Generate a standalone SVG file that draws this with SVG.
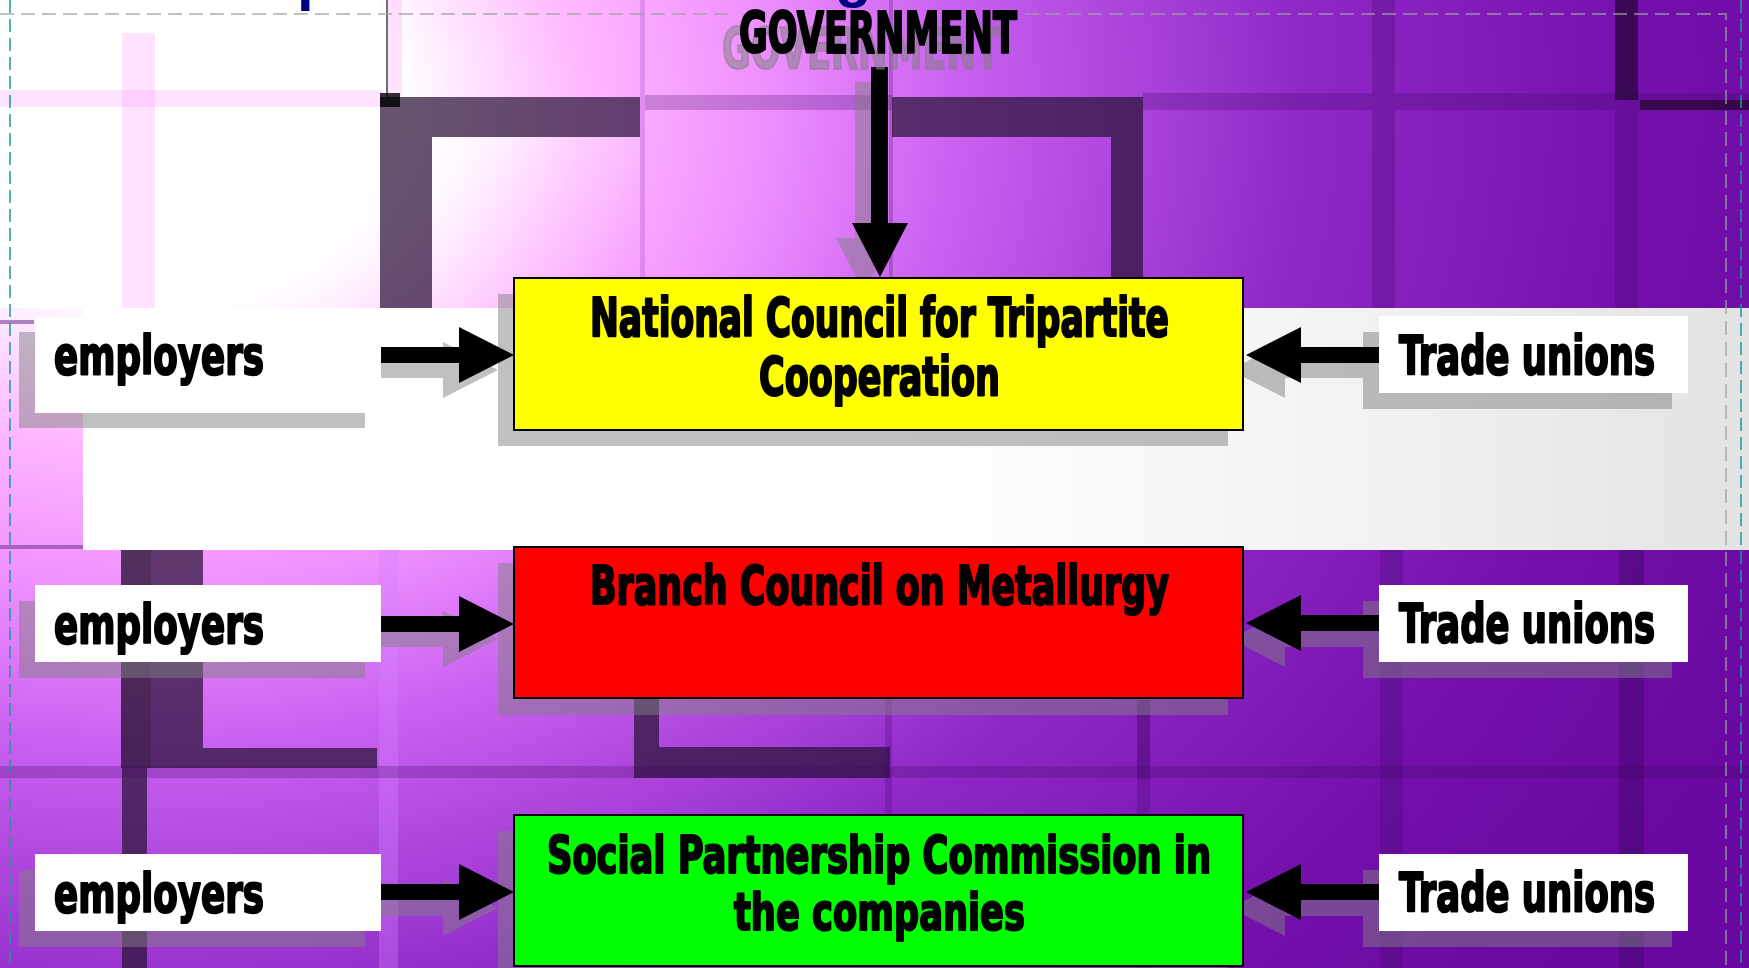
<svg xmlns="http://www.w3.org/2000/svg" width="1749" height="968" viewBox="0 0 1749 968">
  <defs>
    <radialGradient id="bgGrad" gradientUnits="userSpaceOnUse" cx="150" cy="100" r="1800" gradientTransform="translate(150 100) scale(1 0.8) translate(-150 -100)">
      <stop offset="0" stop-color="#ffffff"/>
      <stop offset="0.14" stop-color="#ffffff"/>
      <stop offset="0.24" stop-color="#ffb8ff"/>
      <stop offset="0.34" stop-color="#f090ff"/>
      <stop offset="0.45" stop-color="#c860f0"/>
      <stop offset="0.64" stop-color="#9028c8"/>
      <stop offset="0.83" stop-color="#7410ac"/>
      <stop offset="1" stop-color="#6808a0"/>
    </radialGradient>
    <linearGradient id="tileFade" x1="0" y1="0" x2="1" y2="1">
      <stop offset="0" stop-color="#ffffff" stop-opacity="1"/>
      <stop offset="0.6" stop-color="#ffffff" stop-opacity="1"/>
      <stop offset="1" stop-color="#ffffff" stop-opacity="0.25"/>
    </linearGradient>
    <linearGradient id="tileFade2" x1="0" y1="0" x2="1" y2="0.6">
      <stop offset="0" stop-color="#ffffff" stop-opacity="0.9"/>
      <stop offset="0.45" stop-color="#ffffff" stop-opacity="0.35"/>
      <stop offset="1" stop-color="#ffffff" stop-opacity="0"/>
    </linearGradient>
    <linearGradient id="bandGrad" x1="0" y1="0" x2="1" y2="0">
      <stop offset="0" stop-color="#ffffff"/>
      <stop offset="0.5" stop-color="#ffffff"/>
      <stop offset="0.8" stop-color="#f0f0f0"/>
      <stop offset="1" stop-color="#e3e3e3"/>
    </linearGradient>
    <path id="arrowRight" d="M0,-8 H78 V-28 L133,0 L78,28 V8 H0 Z"/>
    <path id="arrowLeft" d="M0,-8 H-78 V-28 L-133,0 L-78,28 V8 H0 Z"/>
    <path id="arrowDown" d="M871,67 H888 V223 H908 L880,277 L852,223 H871 Z"/>
  </defs>
  <style>
    .lbl { font-family: "DejaVu Sans Condensed", "DejaVu Sans", sans-serif; font-stretch: condensed; font-weight: bold; fill: #000; stroke: #000; stroke-width: 2.2; stroke-linejoin: round; }
    .lbl-shadow { font-family: "DejaVu Sans Condensed", "DejaVu Sans", sans-serif; font-stretch: condensed; font-weight: bold; fill: #808080; fill-opacity: 0.5; stroke: #808080; stroke-opacity: 0.5; stroke-width: 2.2; }
    .title { font-family: "Liberation Sans", sans-serif; font-weight: bold; fill: #000080; }
    .shadow { fill: #808080; }
    .box { stroke: #000; stroke-width: 2; }
    .plain { fill: #ffffff; }
    .arrow { fill: #000; }
    .bevel { fill: #2a1438; fill-opacity: 0.72; }
    .grid { fill: #3a0860; fill-opacity: 0.25; }
    .glow { fill: #ff9cff; fill-opacity: 0.28; }
    .guide { fill: none; stroke: #a0a0a0; stroke-opacity: 0.65; stroke-width: 2; stroke-dasharray: 14 7; }
    .guide-teal { fill: none; stroke: #1a9a9a; stroke-width: 1.5; stroke-dasharray: 13 6; }
  </style>

  <!-- backdrop: purple tiles -->
  <g id="backdrop">
    <rect x="0" y="0" width="1749" height="968" fill="url(#bgGrad)"/>
    <!-- pale tiles in the upper left -->
    <rect x="0" y="0" width="380" height="308" fill="url(#tileFade)"/>
    <rect x="432" y="137" width="208" height="171" fill="url(#tileFade2)"/>
    <!-- upper row of tiles -->
    <rect class="glow" x="122" y="33" width="33" height="275"/>
    <rect class="glow" x="0" y="90" width="383" height="17"/>
    <rect x="386" y="0" width="2" height="97" fill="#333" fill-opacity="0.7"/>
    <rect class="glow" x="388" y="0" width="14" height="97"/>
    <rect class="bevel" x="380" y="97" width="52" height="211"/>
    <rect class="bevel" x="432" y="97" width="208" height="40"/>
    <rect x="380" y="93" width="20" height="14" fill="#000" fill-opacity="0.8"/>
    <rect x="640" y="0" width="5" height="308" fill="#c060e0" fill-opacity="0.4"/>
    <rect class="grid" x="645" y="95" width="247" height="15"/>
    <rect class="grid" x="889" y="0" width="4" height="308"/>
    <rect class="bevel" x="892" y="97" width="251" height="40"/>
    <rect class="bevel" x="1111" y="137" width="32" height="171"/>
    <rect class="grid" x="1143" y="93" width="606" height="17"/>
    <rect class="grid" x="1372" y="0" width="23" height="93"/>
    <rect class="grid" x="1372" y="110" width="23" height="198"/>
    <rect x="1615" y="0" width="23" height="100" fill="#2a0840" fill-opacity="0.8"/>
    <rect class="grid" x="1615" y="110" width="23" height="198"/>
    <rect x="1640" y="100" width="109" height="10" fill="#2a0838" fill-opacity="0.8"/>
    <!-- row edges left of the band -->
    <rect x="0" y="320" width="34" height="4" fill="#7a3a9a" fill-opacity="0.6"/>
    <rect x="0" y="545" width="83" height="4" fill="#7a3a9a" fill-opacity="0.6"/>
    <!-- lower rows of tiles -->
    <rect class="bevel" x="121" y="550" width="82" height="218"/>
    <rect x="121" y="550" width="30" height="218" fill="#000" fill-opacity="0.15"/>
    <rect class="bevel" x="203" y="748" width="174" height="20"/>
    <rect class="bevel" x="122" y="768" width="25" height="200"/>
    <rect x="379" y="550" width="19" height="418" fill="#d080ff" fill-opacity="0.35"/>
    <rect class="bevel" x="634" y="550" width="25" height="228"/>
    <rect class="bevel" x="659" y="747" width="231" height="31"/>
    <rect class="grid" x="885" y="550" width="7" height="418"/>
    <rect class="grid" x="1137" y="550" width="13" height="418"/>
    <rect class="grid" x="1137" y="700" width="13" height="80"/>
    <rect class="grid" x="1380" y="550" width="23" height="418"/>
    <rect class="grid" x="1619" y="550" width="25" height="418"/>
    <rect class="grid" x="1619" y="550" width="25" height="418"/>
    <rect class="grid" x="0" y="766" width="1749" height="12"/>
    <!-- light band behind the top council -->
    <rect x="83" y="308" width="1666" height="242" fill="url(#bandGrad)"/>
  </g>

  <!-- title line above the frame -->
  <g id="title">
    <text class="title" x="297" y="-1" font-size="60">p</text>
    <text class="title" x="835" y="-4.5" font-size="60">g</text>
  </g>

  <!-- drop shadows -->
  <g id="shadows" class="shadow" opacity="0.5">
    <rect x="498" y="294" width="730" height="152"/>
    <rect x="498" y="563" width="730" height="152"/>
    <rect x="498" y="831" width="730" height="152"/>
    <rect x="19" y="332" width="346" height="96"/>
    <rect x="19" y="601" width="346" height="77"/>
    <rect x="19" y="870" width="346" height="77"/>
    <rect x="1363" y="332" width="309" height="77"/>
    <rect x="1363" y="601" width="309" height="77"/>
    <rect x="1363" y="870" width="309" height="77"/>
    <use href="#arrowDown" transform="translate(-16 15)"/>
    <use href="#arrowRight" transform="translate(365 370)"/>
    <use href="#arrowRight" transform="translate(365 639)"/>
    <use href="#arrowRight" transform="translate(365 908)"/>
    <use href="#arrowLeft" transform="translate(1363 370)"/>
    <use href="#arrowLeft" transform="translate(1363 639)"/>
    <use href="#arrowLeft" transform="translate(1363 908)"/>
  </g>

  <!-- connectors -->
  <g id="connectors" class="arrow">
    <use href="#arrowDown"/>
    <use href="#arrowRight" transform="translate(381 355)"/>
    <use href="#arrowRight" transform="translate(381 624)"/>
    <use href="#arrowRight" transform="translate(381 892)"/>
    <use href="#arrowLeft" transform="translate(1379 355)"/>
    <use href="#arrowLeft" transform="translate(1379 623)"/>
    <use href="#arrowLeft" transform="translate(1379 892)"/>
  </g>

  <!-- nodes -->
  <g id="government">
    <text class="lbl-shadow" x="722" y="69" font-size="57" textLength="278" lengthAdjust="spacingAndGlyphs">GOVERNMENT</text>
    <text class="lbl" x="739" y="53" font-size="57" textLength="278" lengthAdjust="spacingAndGlyphs">GOVERNMENT</text>
  </g>

  <g id="national-council">
    <rect class="box" x="514" y="278" width="729" height="152" fill="#ffff00"/>
    <text class="lbl" x="590" y="336" font-size="53" textLength="579" lengthAdjust="spacingAndGlyphs">National Council for Tripartite</text>
    <text class="lbl" x="759" y="395" font-size="53" textLength="241" lengthAdjust="spacingAndGlyphs">Cooperation</text>
  </g>

  <g id="branch-council">
    <rect class="box" x="514" y="547" width="729" height="151" fill="#ff0000"/>
    <text class="lbl" x="590" y="604" font-size="53" textLength="579" lengthAdjust="spacingAndGlyphs">Branch Council on Metallurgy</text>
  </g>

  <g id="company-commission">
    <rect class="box" x="514" y="815" width="729" height="151" fill="#00ff00"/>
    <text class="lbl" x="547" y="873" font-size="52" textLength="664" lengthAdjust="spacingAndGlyphs">Social Partnership Commission in</text>
    <text class="lbl" x="734" y="930" font-size="52" textLength="291" lengthAdjust="spacingAndGlyphs">the companies</text>
  </g>

  <g id="employers-national">
    <rect class="plain" x="35" y="317" width="346" height="96"/>
    <text class="lbl" x="54" y="374" font-size="54" textLength="210" lengthAdjust="spacingAndGlyphs">employers</text>
  </g>
  <g id="employers-branch">
    <rect class="plain" x="35" y="585" width="346" height="77"/>
    <text class="lbl" x="54" y="643" font-size="54" textLength="210" lengthAdjust="spacingAndGlyphs">employers</text>
  </g>
  <g id="employers-company">
    <rect class="plain" x="35" y="854" width="346" height="77"/>
    <text class="lbl" x="54" y="912" font-size="54" textLength="210" lengthAdjust="spacingAndGlyphs">employers</text>
  </g>

  <g id="unions-national">
    <rect class="plain" x="1379" y="316" width="309" height="77"/>
    <text class="lbl" x="1399" y="374" font-size="54" textLength="256" lengthAdjust="spacingAndGlyphs">Trade unions</text>
  </g>
  <g id="unions-branch">
    <rect class="plain" x="1379" y="585" width="309" height="77"/>
    <text class="lbl" x="1399" y="642" font-size="54" textLength="256" lengthAdjust="spacingAndGlyphs">Trade unions</text>
  </g>
  <g id="unions-company">
    <rect class="plain" x="1379" y="854" width="309" height="77"/>
    <text class="lbl" x="1399" y="911" font-size="54" textLength="256" lengthAdjust="spacingAndGlyphs">Trade unions</text>
  </g>

  <!-- layout guides -->
  <g id="guides">
    <path class="guide" d="M0,14 H733 M1025,14 H1726 V968"/>
    <path class="guide-teal" d="M10,0 V968 M1741,0 V968"/>
  </g>
</svg>
